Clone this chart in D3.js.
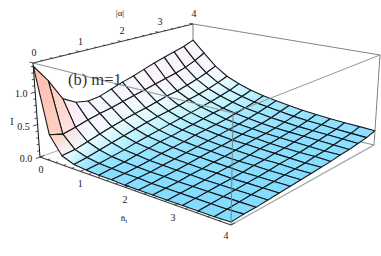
<!DOCTYPE html>
<html><head><meta charset="utf-8">
<script src="https://cdn.jsdelivr.net/npm/d3@7"></script>
<style>html,body{margin:0;padding:0;background:#fff}svg{display:block}</style>
</head><body><svg id="c" width="381" height="256"></svg>
<script>
const nTicks=[0,1,2,3,4];
const alphaTicks=[0,1,2,3,4];
const iTicks=[0,0.5,1];
const nGrid=[0,.286,.571,.857,1.143,1.429,1.714,2,2.286,2.571,2.857,3.143,3.429,3.714,4];
const alphaGrid=nGrid.slice();
// rows: n̄ₜ, columns: |α|
const intensity=[
[1.40,1.12,.78,.66,.62,.64,.70,.76,.81,.87,.93,.98,1.03,1.08,1.15],
[.40,.34,.38,.43,.47,.50,.54,.58,.62,.66,.70,.74,.79,.86,.95],
[.14,.16,.21,.26,.31,.35,.39,.42,.46,.50,.53,.57,.62,.68,.75],
[.07,.10,.14,.18,.22,.26,.30,.33,.36,.39,.43,.46,.50,.55,.61],
[.05,.07,.10,.13,.17,.20,.23,.26,.29,.32,.35,.38,.42,.46,.52],
[.04,.06,.08,.11,.14,.17,.19,.22,.24,.27,.30,.32,.36,.40,.45],
[.04,.05,.07,.09,.12,.14,.16,.19,.21,.23,.25,.28,.31,.35,.40],
[.03,.05,.06,.08,.10,.12,.14,.16,.18,.20,.22,.25,.28,.32,.36],
[.03,.04,.06,.07,.09,.11,.13,.14,.16,.18,.20,.22,.25,.29,.33],
[.03,.04,.05,.07,.08,.10,.11,.13,.15,.17,.18,.20,.23,.26,.30],
[.03,.04,.05,.06,.08,.09,.10,.12,.14,.15,.17,.19,.21,.24,.28],
[.03,.04,.05,.06,.07,.08,.10,.11,.13,.14,.16,.18,.20,.23,.26],
[.03,.04,.05,.06,.07,.08,.09,.11,.12,.13,.15,.17,.19,.21,.25],
[.03,.04,.05,.06,.07,.08,.09,.10,.11,.13,.14,.16,.18,.20,.24],
[.04,.05,.05,.06,.07,.08,.09,.10,.11,.12,.14,.15,.17,.19,.23]];

const u=d3.scaleLinear().domain([0,4]).range([0,1]);
const v=d3.scaleLinear().domain([0,4]).range([0,1]);
const w=d3.scaleLinear().domain([0,1.45]).range([0,1]);
function homography(q){
  const [[x0,y0],[x1,y1],[x2,y2],[x3,y3]]=q;
  const dx1=x1-x2,dx2=x3-x2,sx=x0-x1+x2-x3,dy1=y1-y2,dy2=y3-y2,sy=y0-y1+y2-y3;
  const den=dx1*dy2-dx2*dy1,g=(sx*dy2-dx2*sy)/den,h=(dx1*sy-sx*dy1)/den;
  const a=x1-x0+g*x1,b=x3-x0+h*x3,d=y1-y0+g*y1,e=y3-y0+h*y3;
  return (s,t)=>{const k=g*s+h*t+1;return [(a*s+b*t+x0)/k,(d*s+e*t+y0)/k];};
}
const floorH=homography([[40,157],[231,225],[374,145],[193,102]]);
const roofH=homography([[33,63],[233,113],[380,55],[193,24]]);
function P(n,a,z){
  const s=u(n),t=v(a),f=floorH(s,t),r=roofH(s,t),m=w(z);
  return [f[0]+(r[0]-f[0])*m,f[1]+(r[1]-f[1])*m];
}
const svg=d3.select("#c");
const defs=svg.append("defs");
const seg=(p,q,col,wd)=>svg.append("line").attr("x1",p[0]).attr("y1",p[1]).attr("x2",q[0]).attr("y2",q[1]).attr("stroke",col).attr("stroke-width",wd);
const ZM=1.45;
// back box edges
seg(P(0,4,ZM),P(4,4,ZM),"#7f8a8a",1.1);
seg(P(0,0,0),P(0,4,0),"#a8b0ae",1.2);
seg(P(0,4,0),P(4,4,0),"#5f6f70",.8);
seg(P(0,4,0),P(0,4,ZM),"#6f7f7f",1);
// surface shading from the slope along n̄ₜ
const shade=d3.scaleLinear().domain([0,.08,.2,.38,.6,1.0,1.7,2.8])
  .range(["#84dcff","#98e4ff","#c0f4ff","#eafcff","#f9f6ff","#fcf0f8","#ffd4c8","#ffc0b0"]).clamp(true);
const last=nGrid.length-1;
function slope(i,j){
  const a=Math.max(0,i-1),b=Math.min(last,i+1);
  return Math.max(0,(intensity[a][j]-intensity[b][j])/(nGrid[b]-nGrid[a]));
}
const cells=[];
d3.range(last).forEach(i=>{
  for(let j=last-1;j>=0;j--) cells.push({i,j});
});
const corners=c=>[[c.i,c.j],[c.i+1,c.j],[c.i+1,c.j+1],[c.i,c.j+1]].map(([a,b])=>P(nGrid[a],alphaGrid[b],intensity[a][b]));
cells.forEach(c=>{
  const q=corners(c);
  const g=defs.append("linearGradient").attr("id",`g${c.i}_${c.j}`).attr("gradientUnits","userSpaceOnUse")
    .attr("x1",(q[0][0]+q[3][0])/2).attr("y1",(q[0][1]+q[3][1])/2)
    .attr("x2",(q[1][0]+q[2][0])/2).attr("y2",(q[1][1]+q[2][1])/2);
  g.append("stop").attr("offset",0).attr("stop-color",shade((slope(c.i,c.j)+slope(c.i,c.j+1))/2));
  g.append("stop").attr("offset",1).attr("stop-color",shade((slope(c.i+1,c.j)+slope(c.i+1,c.j+1))/2));
});
svg.append("g").selectAll("path").data(cells).join("path")
 .attr("d",c=>d3.line()(corners(c))+"Z")
 .attr("fill",c=>`url(#g${c.i}_${c.j})`)
 .attr("stroke","#14191b").attr("stroke-width",1.1).attr("stroke-linejoin","round");
// front box edges
seg(P(0,0,ZM),P(4,0,ZM),"#8a9694",1.2);
seg(P(4,0,0),P(4,0,ZM),"#6f8488",1);
seg(P(4,0,ZM),P(4,4,ZM),"#7f8f8f",.9);
seg(P(4,0,0),P(4,4,0),"#9aa5a2",1.4);
seg(P(4,4,0),P(4,4,ZM),"#55666a",.8);
// axes
seg(P(0,0,ZM),P(0,4,ZM),"#3a4040",1.2);
seg(P(0,0,ZM),P(0,0,0),"#111",1);
seg(P(0,0,0),P(4,0,0),"#3a4040",1.3);
d3.range(0,4.01,.2).forEach(t=>{
  const maj=Math.abs(t-Math.round(t))<1e-6, L=maj?.09:.05;
  seg(P(0,t,ZM),P(-L,t,ZM),"#222",.8);
  seg(P(t,0,0),P(t,L,0),"#222",.8);
});
d3.range(0,1.401,.1).forEach(z=>{
  const maj=Math.abs(z*2-Math.round(z*2))<1e-6;
  seg(P(0,0,z),P(0,maj?-.09:-.05,z),"#222",.8);
});
// text
const txt=(x,y,s,fs,fam,col)=>svg.append("text").attr("x",x).attr("y",y).attr("text-anchor","middle")
  .attr("font-family",fam||"'Liberation Serif'").attr("font-size",fs).attr("fill",col||"#1a1a1a").text(s);
const fmt=d3.format(".1f");
alphaTicks.forEach(t=>{const p=P(0,t,ZM);txt(p[0]+1,p[1]-7,t,10);});
nTicks.forEach(t=>{const p=P(t,0,0);txt(p[0]-(t==0?-1:t==4?5:t==3?2:0),p[1]+(t==4?14:16),t,10);});
iTicks.forEach(t=>{const p=P(0,0,t);txt(p[0]-14,p[1]+5,fmt(t),10);});
txt(120,16,"|α|",9);
txt(12,125,"I",10);
const nl=txt(124,221,"n̄",9);
nl.append("tspan").attr("dy",2).attr("font-size",7).text("t");
svg.append("text").attr("x",68).attr("y",85).attr("font-family","'Liberation Serif'").attr("font-size",16.5).attr("fill","#333").text("(b) m=1");
</script></body></html>
